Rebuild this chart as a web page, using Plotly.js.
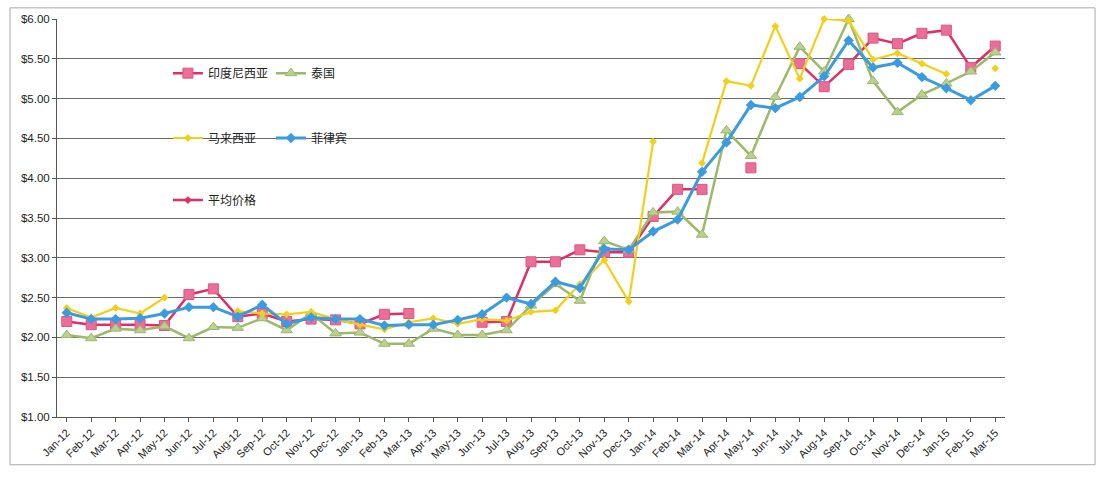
<!DOCTYPE html>
<html>
<head>
<meta charset="utf-8">
<script src="https://cdn.plot.ly/plotly-3.0.1.min.js"></script>
<style>html,body{margin:0;padding:0;background:#fff}#chart{width:1110px;height:481px}</style>
</head>
<body>
<div id="chart"></div>
<script>
const months = ["Jan-12","Feb-12","Mar-12","Apr-12","May-12","Jun-12","Jul-12","Aug-12","Sep-12","Oct-12","Nov-12","Dec-12",
  "Jan-13","Feb-13","Mar-13","Apr-13","May-13","Jun-13","Jul-13","Aug-13","Sep-13","Oct-13","Nov-13","Dec-13",
  "Jan-14","Feb-14","Mar-14","Apr-14","May-14","Jun-14","Jul-14","Aug-14","Sep-14","Oct-14","Nov-14","Dec-14",
  "Jan-15","Feb-15","Mar-15"];

const indonesia = [2.20,2.16,2.16,2.16,2.15,2.54,2.61,2.26,2.30,2.20,2.23,2.22,
  2.17,2.29,2.30,null,null,2.19,2.20,2.95,2.95,3.10,3.07,3.07,
  3.52,3.86,3.86,null,4.13,null,5.44,5.15,5.43,5.76,5.69,5.82,
  5.86,5.39,5.66];
const thailand = [2.03,1.99,2.11,2.09,2.14,1.99,2.13,2.12,2.24,2.09,2.30,2.05,
  2.06,1.92,1.92,2.11,2.03,2.03,2.09,2.40,2.67,2.46,3.21,3.10,
  3.57,3.58,3.29,4.60,4.28,5.02,5.65,5.34,6.00,5.22,4.83,5.05,
  5.19,5.34,5.58];
const malaysia = [2.37,2.25,2.37,2.30,2.50,null,null,2.33,2.30,2.29,2.32,2.23,
  2.16,2.10,2.19,2.24,2.17,2.23,2.21,2.32,2.34,2.67,2.97,2.45,
  4.46,null,4.19,5.22,5.16,5.91,5.25,6.00,5.98,5.49,5.57,5.44,
  5.31,null,5.38];
const philippines = [2.31,2.23,2.23,2.24,2.30,2.38,2.38,2.26,2.41,2.17,2.25,2.23,
  2.23,2.15,2.16,2.16,2.22,2.29,2.50,2.42,2.70,2.62,3.11,3.10,
  3.33,3.48,4.08,4.45,4.92,4.88,5.02,5.28,5.73,5.39,5.45,5.27,
  5.13,4.98,5.16];
const averagePrice = months.map(() => null);

const names = ["印度尼西亚","泰国","马来西亚","菲律宾","平均价格"];
const yTickVals = [1,1.5,2,2.5,3,3.5,4,4.5,5,5.5,6];

const traces = [
  {name:names[0], y:indonesia, legend:"legend",
   line:{color:"#de2f66",width:2.5},
   marker:{symbol:"square",size:10,color:"#ea6f98",line:{color:"#e0557f",width:1}}},
  {name:names[1], y:thailand, legend:"legend",
   line:{color:"#9cb86a",width:2.5},
   marker:{symbol:"triangle-up",size:10,color:"#b9d08f",line:{color:"#9cb86a",width:1}}},
  {name:names[2], y:malaysia, legend:"legend2",
   line:{color:"#f2cf1a",width:2.2},
   marker:{symbol:"diamond",size:6,color:"#f2cf1a"}},
  {name:names[3], y:philippines, legend:"legend2",
   line:{color:"#3a9be0",width:3},
   marker:{symbol:"diamond",size:8,color:"#3a9be0"}},
  {name:names[4], y:averagePrice, legend:"legend3",
   line:{color:"#de2f66",width:2.5},
   marker:{symbol:"diamond",size:6,color:"#de2f66"}}
].map(t => Object.assign({type:"scatter",mode:"lines+markers",x:months,cliponaxis:false,hoverinfo:"x+y+name"}, t));

const legendBase = {orientation:"h", xanchor:"left", yanchor:"middle", bgcolor:"rgba(0,0,0,0)",
  font:{family:"Noto Sans CJK SC, sans-serif", size:12, color:"#222"},
  entrywidth:58, entrywidthmode:"pixels", tracegroupgap:0, itemwidth:30};

const layout = {
  width:1110, height:481,
  margin:{l:57, r:105, t:19, b:64},
  paper_bgcolor:"#fff", plot_bgcolor:"#fff",
  showlegend:true,
  legend:Object.assign({}, legendBase, {x:0.117, y:0.864}),
  legend2:Object.assign({}, legendBase, {x:0.117, y:0.701}),
  legend3:Object.assign({}, legendBase, {x:0.117, y:0.545}),
  xaxis:{
    type:"category", range:[-0.4,38.4],
    tickangle:-45, ticks:"outside", ticklen:4, tickcolor:"#555",
    showline:true, linecolor:"#555", linewidth:1, showgrid:false,
    tickfont:{family:"Liberation Sans, Arial, sans-serif", size:11, color:"#222"}
  },
  yaxis:{
    range:[1,6], tickvals:yTickVals, tickformat:"$.2f",
    ticks:"outside", ticklen:4, tickcolor:"#555",
    showline:true, linecolor:"#555", linewidth:1,
    showgrid:true, gridcolor:"#6a6a6a", gridwidth:1, zeroline:false,
    tickfont:{family:"Liberation Sans, Arial, sans-serif", size:11.5, color:"#222"}
  },
  shapes:[
    {type:"rect", xref:"paper", yref:"paper", x0:-0.0496, x1:1.095, y0:-0.12, y1:1.028,
     line:{color:"#aaa", width:1}, fillcolor:"rgba(0,0,0,0)", layer:"below"}
  ]
};

Plotly.newPlot("chart", traces, layout, {displayModeBar:false, staticPlot:true});
</script>
</body>
</html>
